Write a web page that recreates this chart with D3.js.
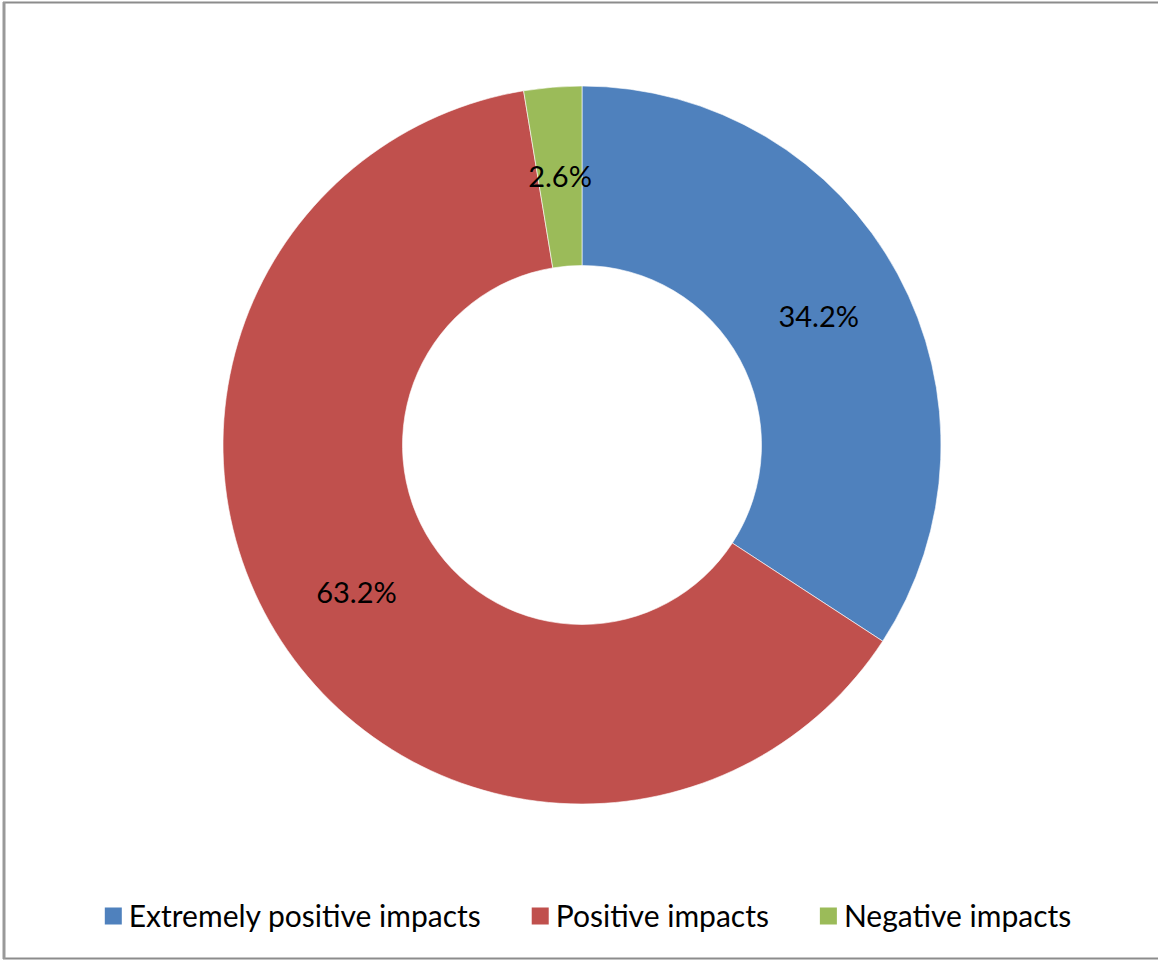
<!DOCTYPE html>
<html>
<head>
<meta charset="utf-8">
<script src="https://cdn.jsdelivr.net/npm/d3@7"></script>
<style>
  html, body { margin: 0; padding: 0; background: #fff; }
  svg { display: block; }
</style>
</head>
<body>
<svg id="chart" width="1158" height="960"></svg>
<script>
// Share of respondents by perceived impact
const categories = ["Extremely positive impacts", "Positive impacts", "Negative impacts"];
const values = [34.2, 63.2, 2.6];
const colors = ["#4F81BD", "#C0504D", "#9BBB59"];

const W = 1158, H = 960;
const cx = 582, cy = 445;
const outerR = 359, innerR = 179.5;
const font = "Lato, 'Open Sans', sans-serif";

const svg = d3.select("#chart");

// frame
svg.append("rect")
  .attr("x", 4).attr("y", 2.5)
  .attr("width", W + 10).attr("height", 956)
  .attr("fill", "#fff")
  .attr("stroke", "#8c8c8c")
  .attr("stroke-width", 2);
svg.append("line")
  .attr("x1", 4).attr("x2", 4).attr("y1", 2).attr("y2", 959)
  .attr("stroke", "#999").attr("stroke-width", 3);

const data = categories.map((c, i) => ({ name: c, value: values[i], color: colors[i] }));

const pie = d3.pie().value(d => d.value).sort(null);
const arc = d3.arc().innerRadius(innerR).outerRadius(outerR);
const labelArc = d3.arc().innerRadius((innerR + outerR) / 2).outerRadius((innerR + outerR) / 2);

const g = svg.append("g").attr("transform", `translate(${cx},${cy})`);
const arcs = pie(data);

g.selectAll("path")
  .data(arcs)
  .join("path")
  .attr("d", arc)
  .attr("fill", d => d.data.color)
  .attr("stroke", "#ffffff")
  .attr("stroke-opacity", 0.6)
  .attr("stroke-width", 1);

g.selectAll("text.val")
  .data(arcs)
  .join("text")
  .attr("class", "val")
  .attr("transform", d => `translate(${labelArc.centroid(d)})`)
  .attr("text-anchor", "middle")
  .attr("dy", "0.36em")
  .attr("font-family", font)
  .attr("font-size", 29)
  .attr("fill", "#000")
  .text(d => d.data.value.toFixed(1) + "%");

// legend, flowed left to right and centred
const legend = svg.append("g");
const sq = 17, gapText = 7, gapItem = 51, ly = 916;
let x = 0;
data.forEach(d => {
  const item = legend.append("g").attr("transform", `translate(${x},0)`);
  item.append("rect")
    .attr("x", 0).attr("y", ly - sq / 2)
    .attr("width", sq).attr("height", sq)
    .attr("fill", d.color);
  const t = item.append("text")
    .attr("x", sq + gapText).attr("y", ly)
    .attr("dy", "0.36em")
    .attr("font-family", font)
    .attr("font-size", 30)
    .attr("fill", "#000")
    .text(d.name);
  x += sq + gapText + t.node().getComputedTextLength() + gapItem;
});
const totalW = x - gapItem;
legend.attr("transform", `translate(${588 - totalW / 2},0)`);
</script>
</body>
</html>
